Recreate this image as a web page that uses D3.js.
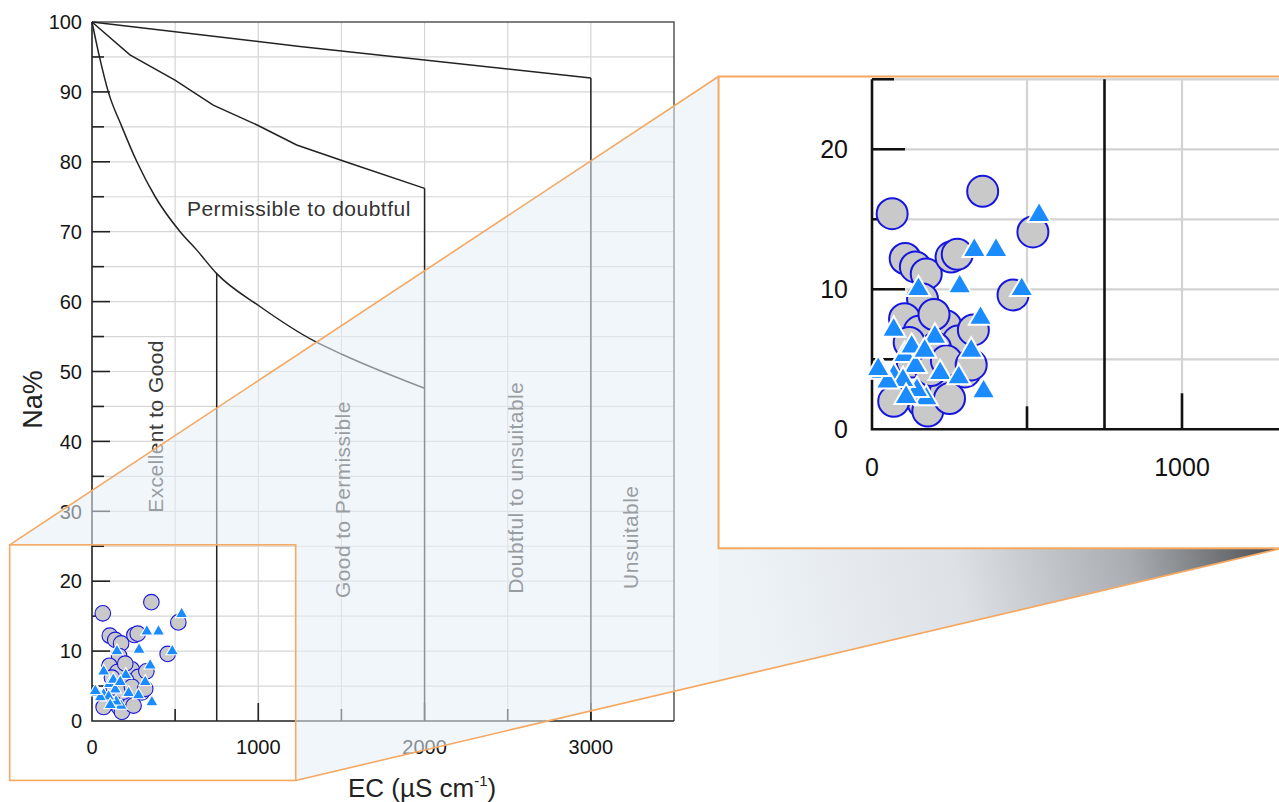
<!DOCTYPE html>
<html>
<head>
<meta charset="utf-8">
<script src="https://cdn.jsdelivr.net/npm/d3@7"></script>
<style>
  body { margin: 0; background: #fff; }
  text { font-family: "Liberation Sans", Arial, sans-serif; }
</style>
</head>
<body>
<div id="chart"></div>
<script>
var width = 1279, height = 802;

// samples, type 1 (grey circles): EC (uS/cm) and Na%
var circleEC = [65, 357, 519, 107, 140, 175, 255, 275, 455, 163, 105, 152, 238, 278, 327, 205, 300, 85, 165, 235, 70, 180, 250, 130, 190, 240, 120, 320, 200];
var circleNa = [15.4, 17.0, 14.1, 12.2, 11.6, 11.1, 12.3, 12.5, 9.6, 9.3, 7.9, 7.0, 7.4, 6.3, 7.1, 5.8, 4.1, 2.4, 1.9, 2.6, 2.0, 1.3, 2.2, 4.8, 4.2, 4.9, 6.2, 4.6, 8.2];

// samples, type 2 (blue triangles)
var triEC = [539, 330, 400, 150, 283, 483, 350, 70, 203, 320, 105, 140, 220, 280, 32, 70, 175, 360, 145, 100, 50, 128, 170, 110, 20];
var triNa = [15.3, 12.8, 12.8, 10.0, 10.2, 10.0, 7.95, 7.1, 6.6, 5.6, 5.3, 4.5, 4.0, 3.7, 4.1, 3.8, 2.2, 2.7, 2.8, 3.5, 3.4, 5.9, 5.6, 2.3, 4.3];

// Wilcox class boundaries
var curve1EC = [0, 45, 98, 180, 270, 380, 530, 629, 750, 1010, 1341, 1509, 2000];
var curve1Na = [100, 95, 90, 85, 80, 75, 70, 67.4, 64, 59.3, 54.3, 52.4, 47.6];
var curve2EC = [0, 228, 499, 729, 990, 1231, 1551, 2000];
var curve2Na = [100, 95.3, 91.7, 88.1, 85.3, 82.4, 79.8, 76.2];
var curve3EC = [0, 1250, 3000];
var curve3Na = [100, 96.5, 92];
var boundEC = [750, 2000, 3000];
var boundNa = [64, 76.2, 92];

var regionNames = ["Excellent to Good", "Good to Permissible", "Doubtful to unsuitable", "Unsuitable"];
var regionEC = [427, 1551, 2592, 3283];
var regionNa = [29.8, 17.6, 18.2, 18.9];

var xTicks = [0, 1000, 2000, 3000];
var yTicks = [0, 10, 20, 30, 40, 50, 60, 70, 80, 90, 100];
var insetXTicks = [0, 1000];
var insetYTicks = [0, 10, 20];

// zoom window (data units) shown in the magnified panel
var zoomEC = [-495, 1225];
var zoomNa = [-8.5, 25.2];

var orange = "#f4a862";

var svg = d3.select("#chart").append("svg")
  .attr("width", width)
  .attr("height", height);

var defs = svg.append("defs");
var grad = defs.append("linearGradient")
  .attr("id", "shade")
  .attr("gradientUnits", "userSpaceOnUse")
  .attr("x1", 760).attr("y1", 660).attr("x2", 1279).attr("y2", 548);
grad.append("stop").attr("offset", 0).attr("stop-color", "#eef3f7");
grad.append("stop").attr("offset", 0.4).attr("stop-color", "#dde1e5");
grad.append("stop").attr("offset", 0.72).attr("stop-color", "#a9adb1");
grad.append("stop").attr("offset", 1).attr("stop-color", "#4c4d50");

// ---------- main chart ----------
var x = d3.scaleLinear().domain([0, 3500]).range([92, 674]);
var y = d3.scaleLinear().domain([0, 100]).range([721, 22]);

var main = svg.append("g");

// grid
main.selectAll("line.vgrid")
  .data(d3.range(500, 3500, 500))
  .enter().append("line")
  .attr("x1", d => x(d)).attr("x2", d => x(d))
  .attr("y1", y(0)).attr("y2", y(100))
  .style("stroke", "#d6d6d6").style("stroke-width", 1.2);
main.selectAll("line.hgrid")
  .data(d3.range(5, 100, 5))
  .enter().append("line")
  .attr("x1", x(0)).attr("x2", x(3500))
  .attr("y1", d => y(d)).attr("y2", d => y(d))
  .style("stroke", "#d6d6d6").style("stroke-width", 1.2);

// frame
main.append("path")
  .attr("d", "M" + x(0) + "," + y(100) + "H" + x(3500) + "V" + y(0))
  .style("fill", "none").style("stroke", "#555").style("stroke-width", 1.5);
main.append("path")
  .attr("d", "M" + x(0) + "," + y(100) + "V" + y(0) + "H" + x(3500))
  .style("fill", "none").style("stroke", "#222").style("stroke-width", 1.6);

// ticks (inward)
main.selectAll("line.ytick")
  .data(d3.range(5, 100, 5))
  .enter().append("line")
  .attr("x1", x(0)).attr("x2", d => x(0) + (d % 10 === 0 ? 18 : 12))
  .attr("y1", d => y(d)).attr("y2", d => y(d))
  .style("stroke", "#222").style("stroke-width", 1.6);
main.selectAll("line.xtick")
  .data(d3.range(500, 3500, 500))
  .enter().append("line")
  .attr("x1", d => x(d)).attr("x2", d => x(d))
  .attr("y1", y(0)).attr("y2", d => y(0) - (d % 1000 === 0 ? 18 : 12))
  .style("stroke", "#222").style("stroke-width", 1.6);

main.selectAll("text.ylab")
  .data(yTicks)
  .enter().append("text")
  .attr("x", 82).attr("y", d => y(d)).attr("dy", "0.36em")
  .attr("text-anchor", "end")
  .style("font-size", "20px").style("fill", "#151515")
  .text(d => d);
main.selectAll("text.xlab")
  .data(xTicks)
  .enter().append("text")
  .attr("x", d => x(d)).attr("y", 754)
  .attr("text-anchor", "middle")
  .style("font-size", "20px").style("fill", "#151515")
  .text(d => d);

// class boundaries
var pts = (xs, ys) => xs.map((v, i) => [v, ys[i]]);
var lineMono = d3.line().x(d => x(d[0])).y(d => y(d[1])).curve(d3.curveMonotoneX);
var lineLin = d3.line().x(d => x(d[0])).y(d => y(d[1]));
main.append("path").attr("d", lineMono(pts(curve1EC, curve1Na)))
  .style("fill", "none").style("stroke", "#222").style("stroke-width", 1.5);
main.append("path").attr("d", lineLin(pts(curve2EC, curve2Na)))
  .style("fill", "none").style("stroke", "#222").style("stroke-width", 1.5);
main.append("path").attr("d", lineLin(pts(curve3EC, curve3Na)))
  .style("fill", "none").style("stroke", "#222").style("stroke-width", 1.5);
main.selectAll("line.bound")
  .data(boundEC)
  .enter().append("line")
  .attr("x1", d => x(d)).attr("x2", d => x(d))
  .attr("y1", y(0)).attr("y2", (d, i) => y(boundNa[i]))
  .style("stroke", "#222").style("stroke-width", 1.5);

// class names
main.append("text")
  .attr("x", x(571)).attr("y", y(72.2))
  .style("font-size", "21px").style("letter-spacing", "0.5px").style("fill", "#333")
  .text("Permissible to doubtful");
main.selectAll("text.region")
  .data(regionNames)
  .enter().append("text")
  .attr("transform", (d, i) => "translate(" + x(regionEC[i]) + "," + y(regionNa[i]) + ") rotate(-90)")
  .style("font-size", "21px").style("letter-spacing", "0.4px").style("fill", "#3a3a3a")
  .text(d => d);

// axis titles
main.append("text")
  .attr("transform", "translate(42," + y(46) + ") rotate(-90)")
  .attr("text-anchor", "middle")
  .style("font-size", "27px").style("fill", "#222")
  .text("Na%");
var xt = main.append("text")
  .attr("x", x(1985)).attr("y", 797)
  .attr("text-anchor", "middle")
  .style("font-size", "26px").style("fill", "#222");
xt.append("tspan").text("EC (\u00b5S cm");
xt.append("tspan").attr("dy", -11).style("font-size", "15px").text("-1");
xt.append("tspan").attr("dy", 11).text(")");

// samples on main chart
function drawPoints(g, sx, sy, r, side, sw) {
  g.selectAll("circle.s1")
    .data(circleEC)
    .enter().append("circle")
    .attr("cx", d => sx(d)).attr("cy", (d, i) => sy(circleNa[i]))
    .attr("r", r)
    .style("fill", "#c9c9c9").style("stroke", "#1616e0").style("stroke-width", sw);
  var tri = d3.symbol().type(d3.symbolTriangle).size(Math.sqrt(3) / 4 * side * side);
  g.selectAll("path.s2")
    .data(triEC)
    .enter().append("path")
    .attr("d", tri)
    .attr("transform", (d, i) => "translate(" + sx(d) + "," + sy(triNa[i]) + ")")
    .style("fill", "#1a8cff").style("stroke", "#fff").style("stroke-width", sw);
}
drawPoints(main.append("g"), x, y, 7.8, 12.5, 1.1);

// ---------- zoom projection ----------
var xi = d3.scaleLinear().domain([0, 1000]).range([872, 1182]);
var yi = d3.scaleLinear().domain([0, 10]).range([429.3, 289.3]);
var insetRight = xi(1322);

var bx0 = x(zoomEC[0]), bx1 = x(zoomEC[1]), by0 = y(zoomNa[1]), by1 = y(zoomNa[0]);
var ix0 = xi(zoomEC[0]), iy0 = yi(zoomNa[1]), iy1 = yi(zoomNa[0]);

svg.append("polygon")
  .attr("points", [[bx0, by0], [ix0, iy0], [ix0, iy1], [insetRight, iy1], [bx1, by1], [bx1, by0]].join(" "))
  .style("fill", "#e5eff7").style("opacity", 0.55);

svg.append("rect")
  .attr("x", bx0).attr("y", by0)
  .attr("width", bx1 - bx0).attr("height", by1 - by0)
  .style("fill", "none").style("stroke", orange).style("stroke-width", 1.6);

// lower projection line meets inset bottom at insetRight
var slope = (iy1 - by1) / (insetRight - bx1);
var yAtIx0 = by1 + slope * (ix0 - bx1);
svg.append("polygon")
  .attr("points", [[ix0, iy1], [insetRight, iy1], [ix0, yAtIx0]].join(" "))
  .style("fill", "url(#shade)");

// ---------- inset ----------
defs.append("clipPath").attr("id", "insetClip")
  .append("rect").attr("x", ix0).attr("y", iy0)
  .attr("width", insetRight - ix0).attr("height", iy1 - iy0);

svg.append("rect")
  .attr("x", ix0).attr("y", iy0)
  .attr("width", insetRight - ix0 + 10).attr("height", iy1 - iy0)
  .style("fill", "#fff");

var inset = svg.append("g").attr("clip-path", "url(#insetClip)");

inset.selectAll("line.vgrid")
  .data([500, 1000])
  .enter().append("line")
  .attr("x1", d => xi(d)).attr("x2", d => xi(d))
  .attr("y1", yi(0)).attr("y2", yi(25))
  .style("stroke", "#d3d3d3").style("stroke-width", 2.2);
inset.selectAll("line.hgrid")
  .data([5, 10, 15, 20, 25])
  .enter().append("line")
  .attr("x1", xi(0)).attr("x2", insetRight)
  .attr("y1", d => yi(d)).attr("y2", d => yi(d))
  .style("stroke", "#d3d3d3").style("stroke-width", 2.2);

inset.append("path")
  .attr("d", "M" + xi(0) + "," + yi(25) + "V" + yi(0) + "H" + insetRight)
  .style("fill", "none").style("stroke", "#111").style("stroke-width", 2.6);
inset.append("line")
  .attr("x1", xi(750)).attr("x2", xi(750))
  .attr("y1", yi(0)).attr("y2", yi(25))
  .style("stroke", "#111").style("stroke-width", 2.6);
inset.selectAll("line.ytick")
  .data([5, 10, 15, 20, 25])
  .enter().append("line")
  .attr("x1", xi(0)).attr("x2", d => xi(0) + (d % 10 === 0 ? 33 : 22))
  .attr("y1", d => yi(d)).attr("y2", d => yi(d))
  .style("stroke", "#111").style("stroke-width", 2.6);
inset.selectAll("line.xtick")
  .data([500, 1000])
  .enter().append("line")
  .attr("x1", d => xi(d)).attr("x2", d => xi(d))
  .attr("y1", yi(0)).attr("y2", d => yi(0) - (d % 1000 === 0 ? 36 : 23))
  .style("stroke", "#111").style("stroke-width", 2.6);

inset.selectAll("text.ylab")
  .data(insetYTicks)
  .enter().append("text")
  .attr("x", 848).attr("y", d => yi(d)).attr("dy", "0.36em")
  .attr("text-anchor", "end")
  .style("font-size", "25px").style("fill", "#111")
  .text(d => d);
inset.selectAll("text.xlab")
  .data(insetXTicks)
  .enter().append("text")
  .attr("x", d => xi(d)).attr("y", 476)
  .attr("text-anchor", "middle")
  .style("font-size", "25px").style("fill", "#111")
  .text(d => d);

drawPoints(inset.append("g"), xi, yi, 15.5, 23.5, 2);

svg.append("rect")
  .attr("x", ix0).attr("y", iy0)
  .attr("width", insetRight - ix0 + 10).attr("height", iy1 - iy0)
  .style("fill", "none").style("stroke", orange).style("stroke-width", 2);

// projection lines
svg.append("line")
  .attr("x1", bx0).attr("y1", by0).attr("x2", ix0).attr("y2", iy0)
  .style("stroke", orange).style("stroke-width", 1.6);
svg.append("line")
  .attr("x1", bx1).attr("y1", by1).attr("x2", insetRight).attr("y2", iy1)
  .style("stroke", orange).style("stroke-width", 1.6);
</script>
</body>
</html>
